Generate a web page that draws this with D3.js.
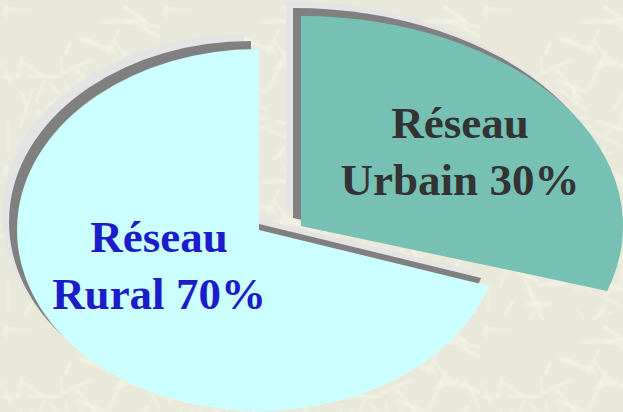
<!DOCTYPE html>
<html lang="fr">

<head>
  <meta charset="UTF-8">
  <title>Réseau rural / urbain</title>
  <script src="https://cdn.jsdelivr.net/npm/d3@7"></script>
  <style>
    body { margin: 0; }
    svg { display: block; }
  </style>
</head>

<body>
  <svg width="623" height="412"></svg>
</body>

<script>
  // data
  const categories = ["Urbain", "Rural"];
  const values = [30, 70];
  const labelLines = [["Réseau", "Urbain 30%"], ["Réseau", "Rural 70%"]];
  const colors = ["#76c1b3", "#ccffff"];
  const textColors = ["#333333", "#1c1cc8"];

  const svg = d3.select("svg");
  const width = +svg.attr("width");
  const height = +svg.attr("height");

  // textured background (paper with soft streaks)
  const defs = svg.append("defs");
  defs.append("filter").attr("id", "soft")
    .append("feGaussianBlur").attr("stdDeviation", 0.8);
  const pat = defs.append("pattern")
    .attr("id", "paper")
    .attr("patternUnits", "userSpaceOnUse")
    .attr("width", 160)
    .attr("height", 160);
  pat.append("rect").attr("width", 160).attr("height", 160).attr("fill", "#e8e8db");
  const streaks = pat.append("g").attr("filter", "url(#soft)");
  let seed = 11;
  const rnd = () => { seed = (seed * 16807) % 2147483647; return seed / 2147483647; };
  for (let i = 0; i < 55; i++) {
    const x = 5 + rnd() * 150, y = 5 + rnd() * 150, a = rnd() * Math.PI, l = 10 + rnd() * 30;
    streaks.append("line")
      .attr("x1", x).attr("y1", y)
      .attr("x2", x + Math.cos(a) * l).attr("y2", y + Math.sin(a) * l)
      .attr("stroke", "#f6f6e9")
      .attr("stroke-width", 1.5 + rnd() * 2.5)
      .attr("stroke-linecap", "round")
      .attr("opacity", 0.55);
  }
  svg.append("rect").attr("width", width).attr("height", height).attr("fill", "url(#paper)");

  // each slice lies on its own tilted ellipse (exploded 3d look)
  const R = 100;
  const geom = [
    { cx: 301, cy: 226, rx: 322, ry: 210, label: [460, 138] },
    { cx: 259, cy: 230, rx: 242, ry: 181, label: [159, 252] }
  ];

  const pie = d3.pie().sort(null).value(d => d);
  const arcs = pie(values);
  const arc = d3.arc().innerRadius(0).outerRadius(R);

  const shadows = [
    { dx: -15, dy: -15, fill: "#e4e4e4" },
    { dx: -8, dy: -8, fill: "#808080" }
  ];

  arcs.forEach((a, i) => {
    const g = geom[i];
    const tr = (dx, dy) => "translate(" + (g.cx + dx) + "," + (g.cy + dy) + ") scale(" + (g.rx / R) + "," + (g.ry / R) + ")";
    const grp = svg.append("g").attr("class", "slice-" + categories[i]);
    shadows.forEach(s => {
      grp.append("path")
        .attr("d", arc(a))
        .attr("transform", tr(s.dx, s.dy))
        .attr("fill", s.fill);
    });
    grp.append("path")
      .attr("d", arc(a))
      .attr("transform", tr(0, 0))
      .attr("fill", colors[i]);
  });

  // labels
  arcs.forEach((a, i) => {
    const g = geom[i];
    const t = svg.append("text")
      .attr("x", g.label[0])
      .attr("y", g.label[1])
      .attr("text-anchor", "middle")
      .attr("font-family", "'Liberation Serif', 'DejaVu Serif', serif")
      .attr("font-weight", "bold")
      .attr("font-size", "45px")
      .attr("fill", textColors[i]);
    labelLines[i].forEach((ln, k) => {
      t.append("tspan")
        .attr("x", g.label[0])
        .attr("dy", k === 0 ? 0 : 57)
        .text(ln);
    });
  });
</script>

</html>
